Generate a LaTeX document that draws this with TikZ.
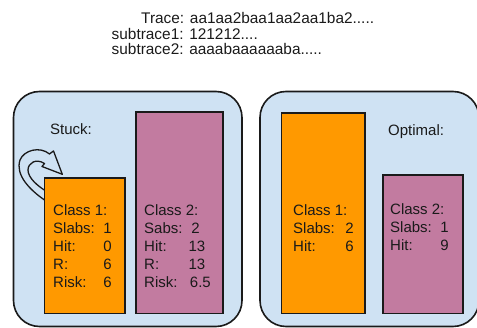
\documentclass[tikz,border=0pt]{standalone}
\usepackage{fontspec}
\setmainfont{Liberation Sans}
\definecolor{panelblue}{HTML}{CFE2F3}
\definecolor{orangefill}{HTML}{FF9900}
\definecolor{purplefill}{HTML}{C27BA0}
\definecolor{inkc}{HTML}{1A1A1A}
\begin{document}
\begin{tikzpicture}[x=1pt,y=-1pt,
  panel/.style={draw=inkc,line width=1.6pt,fill=panelblue,rounded corners=26pt},
  slab/.style={draw=inkc,line width=1.3pt},
  arrowline/.style={draw=inkc,line width=1.3pt,line join=round},
  head/.style={inner sep=0pt,anchor=base west,text=inkc,font=\fontsize{15.4}{18}\selectfont},
  txt/.style={inner sep=0pt,anchor=base west,text=inkc,font=\fontsize{15}{18}\selectfont},
  val/.style={inner sep=0pt,anchor=base east,text=inkc,font=\fontsize{15}{18}\selectfont}]
\useasboundingbox (0,0) rectangle (477,328);
\clip (0,0) rectangle (477,328);
% header
\node[head] (tr) at (141,23.3) {Trace: aa1aa2baa1aa2aa1ba2.....};
\node[head] (st1) at (111.5,39.3) {subtrace1: 121212....};
\node[head] (st2) at (111.5,54.5) {subtrace2: aaaabaaaaaaba.....};
% panels
\draw[panel] (13.5,91.5) rectangle (242,326.5);
\draw[panel] (260,91.5) rectangle (479,326.5);
% slabs
\draw[slab,fill=orangefill] (44.5,178) rectangle (125,313.5);
\draw[slab,fill=purplefill] (136,112) rectangle (223,313.5);
\draw[slab,fill=orangefill] (281.5,113) rectangle (365,313.5);
\draw[slab,fill=purplefill] (383,175) rectangle (463,313.5);
% self-loop block arrow
\draw[arrowline] (44.5,200) .. controls (30,190) and (15,175) .. (20,160)
  .. controls (24,150) and (40,146) .. (49.5,154) -- (53.5,151) -- (62.3,174.3)
  -- (42,166.5) -- (44.5,163.5) .. controls (36,158) and (28,163) .. (28,170)
  .. controls (28,178) and (38,186) .. (44.3,190);
% titles
\node[txt] (stuck) at (50,135) {Stuck:};
\node[txt] (opt) at (388,136) {Optimal:};
% left orange
\node[txt] (a1) at (53,215.7) {Class 1:};
\node[txt] (a2) at (53,234) {Slabs:};
\node[txt] (a3) at (53,252) {Hit:};
\node[txt] (a4) at (53,270) {R:};
\node[txt] (a5) at (53,288) {Risk:};
\node[val] (av2) at (112,234) {1};
\node[val] (av3) at (112,252) {0};
\node[val] (av4) at (112,270) {6};
\node[val] (av5) at (112,288) {6};
% left purple
\node[txt] (b1) at (144,215.7) {Class 2:};
\node[txt] (b2) at (144,234) {Sabs:};
\node[txt] (b3) at (144,252) {Hit:};
\node[txt] (b4) at (144,270) {R:};
\node[txt] (b5) at (144,288) {Risk:};
\node[val] (bv2) at (200,234) {2};
\node[val] (bv3) at (205.5,252) {13};
\node[val] (bv4) at (205.5,270) {13};
\node[val] (bv5) at (211,288) {6.5};
% right orange
\node[txt] (c1) at (293,216) {Class 1:};
\node[txt] (c2) at (293,234) {Slabs:};
\node[txt] (c3) at (293,252) {Hit:};
\node[val] (cv2) at (354,234) {2};
\node[val] (cv3) at (354,252) {6};
% right purple
\node[txt] (d1) at (390,215) {Class 2:};
\node[txt] (d2) at (390,233) {Slabs:};
\node[txt] (d3) at (390,251) {Hit:};
\node[val] (dv2) at (449,233) {1};
\node[val] (dv3) at (449,251) {9};
\end{tikzpicture}
\end{document}
